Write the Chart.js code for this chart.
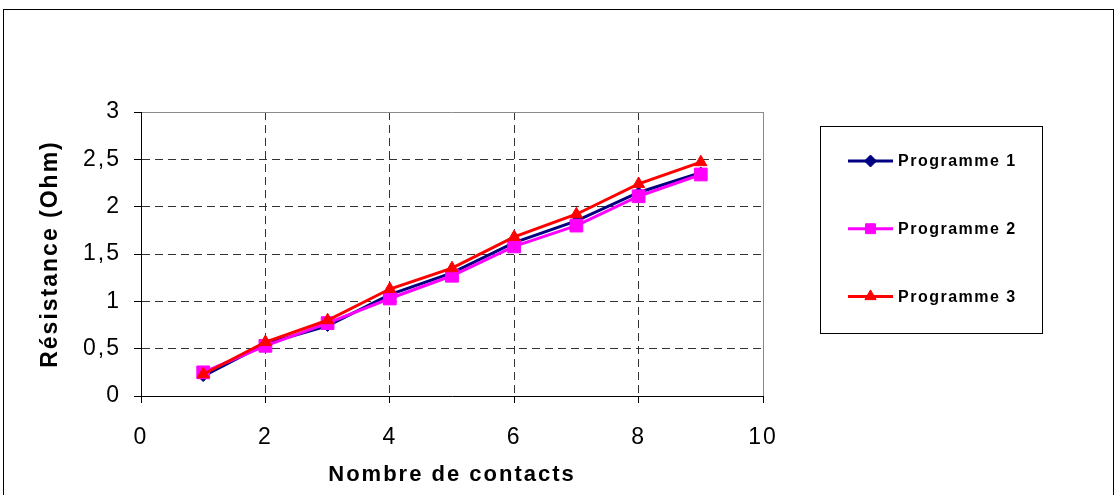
<!DOCTYPE html>
<html>
<head>
<meta charset="utf-8">
<script src="https://cdn.jsdelivr.net/npm/chart.js@4/dist/chart.umd.min.js"></script>
<style>
  html, body { margin: 0; padding: 0; background: #fff; }
  #chart { display: block; }
</style>
</head>
<body>
<canvas id="chart" width="1119" height="495"></canvas>
<script>
const contacts = [1, 2, 3, 4, 5, 6, 7, 8, 9];
const programme1 = [0.21, 0.55, 0.74, 1.07, 1.30, 1.62, 1.85, 2.15, 2.36];
const programme2 = [0.25, 0.53, 0.77, 1.03, 1.27, 1.58, 1.80, 2.11, 2.34];
const programme3 = [0.23, 0.57, 0.80, 1.13, 1.35, 1.68, 1.92, 2.24, 2.47];
const seriesNames = ['Programme 1', 'Programme 2', 'Programme 3'];
const xTickLabels = ['0', '2', '4', '6', '8', '10'];
const yTickLabels = ['0', '0,5', '1', '1,5', '2', '2,5', '3'];

const FONT = "'Liberation Sans', Arial, sans-serif";
const SPACING = '2px';

// old-style spreadsheet text is drawn a bit loose
const spacingPlugin = {
  id: 'spacing',
  beforeLayout(chart) { chart.ctx.letterSpacing = SPACING; },
  beforeDraw(chart) { chart.ctx.letterSpacing = SPACING; }
};

// outer frame of the chart object
const framePlugin = {
  id: 'frame',
  beforeDraw(chart) {
    const ctx = chart.ctx;
    ctx.save();
    ctx.fillStyle = '#fff';
    ctx.fillRect(0, 0, chart.width, chart.height);
    ctx.strokeStyle = '#000';
    ctx.lineWidth = 1;
    ctx.strokeRect(3.5, 9.5, 1110, 500);
    ctx.restore();
  }
};

// boxed legend: line sample with the marker in the middle
const boxLegendPlugin = {
  id: 'boxLegend',
  afterDraw(chart) {
    const ctx = chart.ctx;
    const box = { x: 820.5, y: 126.5, w: 222, h: 207 };
    const markerRadius = [6, 7, 6.5];
    ctx.save();
    ctx.strokeStyle = '#000';
    ctx.lineWidth = 1;
    ctx.strokeRect(box.x, box.y, box.w, box.h);
    ctx.letterSpacing = '1.5px';
    chart.data.datasets.forEach((ds, i) => {
      const y = box.y + 34.5 + i * 67.7;
      ctx.strokeStyle = ds.borderColor;
      ctx.lineWidth = 3;
      ctx.beginPath();
      ctx.moveTo(848, y);
      ctx.lineTo(893, y);
      ctx.stroke();
      ctx.fillStyle = ds.pointBackgroundColor;
      ctx.strokeStyle = ds.pointBorderColor;
      ctx.lineWidth = 1;
      Chart.helpers.drawPoint(ctx, {
        pointStyle: ds.pointStyle, radius: markerRadius[i], borderWidth: 1, rotation: 0
      }, 870.5, y);
      ctx.fillStyle = '#000';
      ctx.font = 'bold 16px ' + FONT;
      ctx.textBaseline = 'middle';
      ctx.textAlign = 'left';
      ctx.fillText(ds.label, 898, y + 1);
    });
    ctx.restore();
  }
};

function series(values) {
  return contacts.map((c, i) => ({ x: c, y: values[i] }));
}

const styles = [
  { color: '#000080', point: 'rectRot', radius: 5.5, order: 3 },
  { color: '#ff00ff', point: 'rect', radius: 9, order: 2 },
  { color: '#ff0000', point: 'triangle', radius: 7, order: 1 }
];

const datasets = [programme1, programme2, programme3].map((vals, i) => ({
  label: seriesNames[i],
  data: series(vals),
  borderColor: styles[i].color,
  backgroundColor: styles[i].color,
  pointBackgroundColor: styles[i].color,
  pointBorderColor: styles[i].color,
  pointStyle: styles[i].point,
  pointRadius: styles[i].radius,
  pointBorderWidth: 1,
  borderWidth: 3,
  order: styles[i].order,
  tension: 0
}));

const dashFor = (n) => (c) => (c.index === n ? [] : [8, 5]);

new Chart(document.getElementById('chart'), {
  type: 'line',
  data: { datasets },
  options: {
    responsive: false,
    animation: false,
    layout: { padding: { top: 112, right: 356, left: 0, bottom: 0 } },
    plugins: {
      legend: { display: false },
      tooltip: { enabled: false }
    },
    scales: {
      x: {
        type: 'linear',
        min: 0,
        max: 10,
        ticks: {
          stepSize: 2,
          color: '#000',
          padding: 21,
          font: { family: FONT, size: 23 },
          callback: (v, i) => xTickLabels[i]
        },
        grid: {
          color: (c) => (c.index === 5 ? '#8a8a8a' : '#333'),
          tickColor: '#000',
          tickLength: 7
        },
        border: { color: '#000', width: 1, dash: dashFor(5) },
        title: {
          display: true,
          text: 'Nombre de contacts',
          color: '#000',
          font: { family: FONT, size: 22, weight: 'bold' },
          padding: { top: 0, bottom: 7 }
        },
        afterFit: (scale) => { scale.height = 99; }
      },
      y: {
        min: 0,
        max: 3,
        ticks: {
          stepSize: 0.5,
          color: '#000',
          padding: 13,
          font: { family: FONT, size: 23 },
          callback: (v, i) => yTickLabels[i]
        },
        grid: {
          color: (c) => (c.index === 6 ? '#8a8a8a' : '#333'),
          tickColor: '#000',
          tickLength: 7
        },
        border: { color: '#000', width: 1, dash: dashFor(6) },
        title: {
          display: true,
          text: 'Résistance (Ohm)',
          color: '#000',
          font: { family: FONT, size: 23, weight: 'bold' },
          padding: { top: 37, bottom: 0 }
        },
        afterFit: (scale) => { scale.width = 141; }
      }
    }
  },
  plugins: [spacingPlugin, framePlugin, boxLegendPlugin]
});
</script>
</body>
</html>
